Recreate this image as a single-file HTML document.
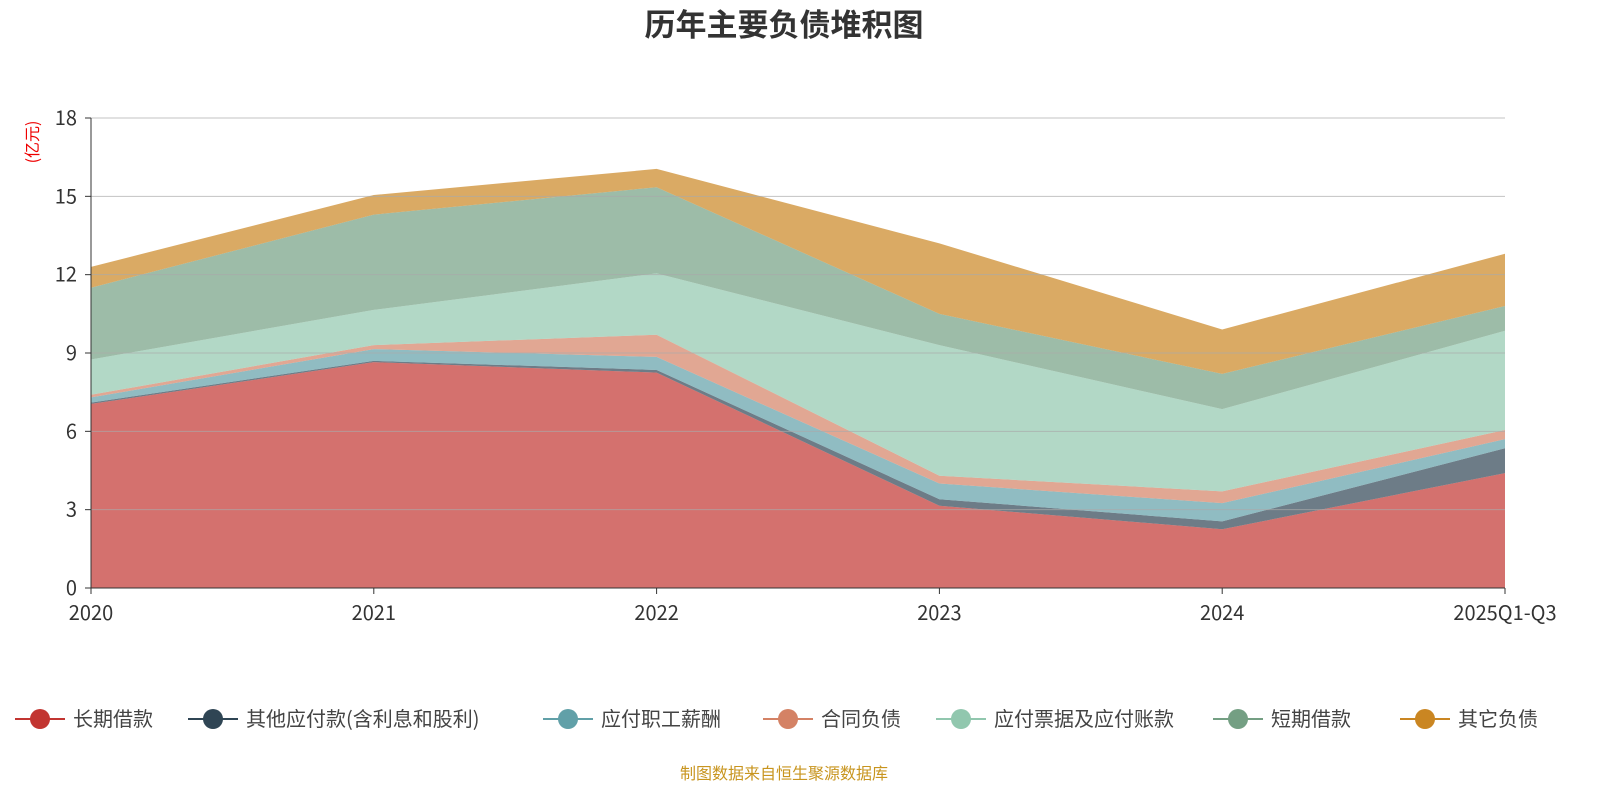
<!DOCTYPE html>
<html><head><meta charset="utf-8">
<style>
body{margin:0;background:#fff;font-family:"Noto Sans CJK SC","Liberation Sans",sans-serif;}
#wrap{position:relative;width:1600px;height:800px;overflow:hidden;}
</style></head><body>
<div id="wrap">
<svg id="chart" width="1600" height="800"></svg>
</div>
<script>
const categories=["2020","2021","2022","2023","2024","2025Q1-Q3"];
const seriesNames=["长期借款","其他应付款(含利息和股利)","应付职工薪酬","合同负债","应付票据及应付账款","短期借款","其它负债"];
const longLoan=[7.05,8.65,8.25,3.15,2.25,4.4];
const otherPayable=[0.05,0.05,0.1,0.25,0.3,0.95];
const staffPay=[0.2,0.45,0.5,0.6,0.7,0.35];
const contractLiab=[0.1,0.15,0.85,0.3,0.45,0.35];
const notesPayable=[1.35,1.35,2.35,5.0,3.15,3.8];
const shortLoan=[2.75,3.65,3.3,1.2,1.35,0.95];
const otherLiab=[0.8,0.75,0.7,2.7,1.7,2.0];
const yTicks=[0,3,6,9,12,15,18];
const seriesData=[longLoan,otherPayable,staffPay,contractLiab,notesPayable,shortLoan,otherLiab];
const colors=["#c23531","#2f4554","#61a0a8","#d48265","#91c7ae","#749f83","#ca8622"];
const NS="http://www.w3.org/2000/svg";
const svg=document.getElementById('chart');
const X0=91,X1=1505,Y0=588,Y1=118,YMAX=18;
const FONT='"Noto Sans CJK SC","Liberation Sans",sans-serif';
const xs=i=>X0+(X1-X0)*i/(categories.length-1);
const ys=v=>Y0-(Y0-Y1)*v/YMAX;
function mk(tag,attrs){const e=document.createElementNS(NS,tag);for(const k in attrs)e.setAttribute(k,attrs[k]);if(tag==='text')e.setAttribute('font-family',FONT);svg.appendChild(e);return e;}
let t=mk('text',{x:784,y:36,'text-anchor':'middle','font-size':31,'font-weight':'bold',fill:'#333'});t.textContent="历年主要负债堆积图";


let base=categories.map(()=>0);
seriesData.forEach((arr,si)=>{
  const top=base.map((b,i)=>b+arr[i]);
  let d="M"+top.map((v,i)=>xs(i)+","+ys(v)).join("L");
  for(let i=categories.length-1;i>=0;i--)d+="L"+xs(i)+","+ys(base[i]);
  d+="Z";
  const p=mk('path',{d:d,fill:colors[si],'fill-opacity':0.7,stroke:'none'});
  
  
  base=top;
});
yTicks.forEach(v=>{
  if(v>0){const g=mk('line',{x1:X0,x2:X1,y1:ys(v),y2:ys(v),stroke:'#aaa','stroke-width':1,'stroke-opacity':0.7});
  
  }
  mk('line',{x1:X0-6,x2:X0,y1:ys(v),y2:ys(v),stroke:'#333'});
  const tx=mk('text',{x:X0-14,y:ys(v)+7,'text-anchor':'end','font-size':20,fill:'#333'});tx.textContent=v;
  
  
});
mk('line',{x1:X0,x2:X0,y1:Y1,y2:Y0,stroke:'#333'});
mk('line',{x1:X0,x2:X1,y1:Y0,y2:Y0,stroke:'#333'});
categories.forEach((c,i)=>{
  mk('line',{x1:xs(i),x2:xs(i),y1:Y0,y2:Y0+6,stroke:'#333'});
  const tx=mk('text',{x:xs(i),y:620,'text-anchor':'middle','font-size':20,fill:'#333'});tx.textContent=c;
  
  
});
const yt=mk('text',{x:38,y:142,'text-anchor':'middle','font-size':16,fill:'#e00',transform:'rotate(-90 38 142)'});yt.textContent="(亿元)";


const legX=[15,188,543,763,936,1213,1400];
seriesNames.forEach((n,i)=>{
  const x=legX[i];
  mk('line',{x1:x,x2:x+50,y1:719,y2:719,stroke:colors[i],'stroke-width':2});
  mk('circle',{cx:x+25,cy:719,r:10,fill:colors[i]});
  const tx=mk('text',{x:x+58,y:726,'font-size':20,fill:'#444'});tx.textContent=n;
  
  
});
const src=mk('text',{x:784,y:779,'text-anchor':'middle','font-size':16,fill:'#c8951f'});src.textContent="制图数据来自恒生聚源数据库";


</script>
</body></html>
